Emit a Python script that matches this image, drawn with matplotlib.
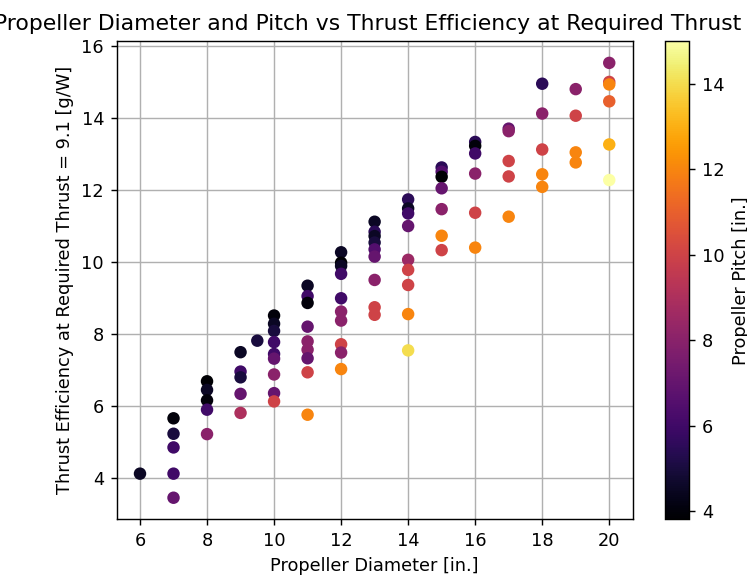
import numpy as np
import matplotlib
matplotlib.use("Agg")
import matplotlib.pyplot as plt

# propeller diameter [in.], thrust efficiency [g/W], pitch [in.]
diameter = [6,
            7, 7, 7, 7, 7,
            8, 8, 8, 8, 8,
            9, 9, 9, 9, 9,
            9.5,
            10, 10, 10, 10, 10, 10, 10, 10, 10,
            11, 11, 11, 11, 11, 11, 11, 11, 11,
            12, 12, 12, 12, 12, 12, 12, 12, 12, 12,
            13, 13, 13, 13, 13, 13, 13, 13, 13,
            14, 14, 14, 14, 14, 14, 14, 14, 14,
            15, 15, 15, 15, 15, 15, 15,
            16, 16, 16, 16, 16, 16,
            17, 17, 17, 17, 17,
            18, 18, 18, 18, 18,
            19, 19, 19, 19,
            20, 20, 20, 20, 20, 20]
efficiency = [4.11,
              5.65, 5.22, 4.84, 4.11, 3.44,
              6.68, 6.44, 6.15, 5.89, 5.21,
              7.49, 6.95, 6.79, 6.33, 5.80,
              7.81,
              8.51, 8.28, 8.08, 7.77, 7.44, 7.31, 6.87, 6.35, 6.12,
              9.34, 9.05, 8.86, 8.20, 7.79, 7.56, 7.32, 6.93, 5.75,
              10.27, 9.98, 9.89, 9.67, 8.99, 8.62, 8.37, 7.71, 7.48, 7.02,
              11.12, 10.84, 10.72, 10.54, 10.35, 10.15, 9.50, 8.74, 8.53,
              11.74, 11.49, 11.35, 11.00, 10.06, 9.78, 9.36, 8.55, 7.54,
              12.63, 12.51, 12.37, 12.05, 11.47, 10.73, 10.33,
              13.34, 13.23, 13.02, 12.46, 11.37, 10.40,
              13.71, 13.64, 12.81, 12.38, 11.26,
              14.96, 14.13, 13.13, 12.44, 12.09,
              14.81, 14.07, 13.05, 12.77,
              15.54, 15.01, 14.94, 14.47, 13.27, 12.28]
pitch = [4.5,
         4, 5, 6, 6, 7,
         3.8, 4.5, 4, 6, 8,
         4.5, 6, 5, 7, 9,
         5,
         4, 4.5, 5, 6, 6, 7, 8, 7, 10,
         4.5, 6, 4, 7, 8, 8, 7, 10, 12,
         4.5, 3.8, 4.5, 6, 6, 8, 8, 10, 8, 12,
         4.5, 5.5, 4.5, 5, 6.5, 7, 8, 10, 10,
         5.5, 4.5, 6, 7, 8.5, 10, 10, 12, 14,
         5.5, 6.5, 3.8, 7, 8, 12, 10,
         5.5, 4, 6, 8, 10, 12,
         7, 8, 10, 10, 12,
         5.5, 8, 10, 12, 12,
         8, 10, 12, 12,
         8, 10, 12, 11, 13, 15]

DPI = 128
fig = plt.figure(figsize=(747 / DPI, 577 / DPI), dpi=DPI)
ax = fig.add_axes([0.156, 0.0997, 0.691, 0.829])
cax = fig.add_axes([0.890, 0.0997, 0.0328, 0.829])

sc = ax.scatter(diameter, efficiency, c=pitch, cmap="inferno",
                vmin=min(pitch), vmax=max(pitch), zorder=2)
ax.grid(True)
ax.set_axisbelow(True)
ax.set_xticks([6, 8, 10, 12, 14, 16, 18, 20])
ax.set_xlabel("Propeller Diameter [in.]")
ax.set_ylabel("Thrust Efficiency at Required Thrust = 9.1 [g/W]")
# title is wider than the figure, as in the original; nudge it a bit left
ax.set_title("Propeller Diameter and Pitch vs Thrust Efficiency at Required Thrust",
             fontsize=12.3, x=0.487)

cb = fig.colorbar(sc, cax=cax)
cb.set_label("Propeller Pitch [in.]")

fig.savefig("out.png", dpi=DPI)
